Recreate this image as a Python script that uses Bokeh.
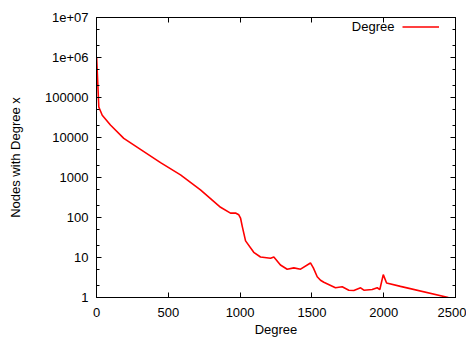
from bokeh.plotting import figure
from bokeh.models import (FixedTicker, LogAxis, LinearAxis, CustomJSTickFormatter,
                          Legend, LegendItem, Label, Range1d)
from bokeh.embed import file_html
from bokeh.resources import INLINE

# data
degree = [1, 9, 16, 40, 97, 190, 306, 446, 585, 724, 864, 933, 968, 991, 1003, 1015,
          1038, 1095, 1142, 1212, 1235, 1281, 1328, 1374, 1421, 1490, 1510, 1537,
          1560, 1583, 1664, 1711, 1757, 1792, 1839, 1862, 1920, 1955, 1973, 1997,
          2020, 2117, 2450]
count = [1.0e6, 2.2e5, 58000, 36000, 20500, 9500, 5050, 2350, 1160, 490, 180, 129,
         130, 117, 97, 60, 26, 13.5, 10.3, 9.6, 10.3, 6.5, 5.1, 5.5, 5.1, 7.3, 5.5,
         3.3, 2.7, 2.4, 1.75, 1.85, 1.52, 1.5, 1.75, 1.52, 1.58, 1.75, 1.58, 3.74,
         2.3, 1.9, 1.0]

x_ticks = [0, 500, 1000, 1500, 2000, 2500]
y_ticks = [1, 10, 100, 1000, 10000, 100000, 1000000, 10000000]
y_minor = [m * t for t in y_ticks[:-1] for m in (2, 5)]

FONT = "Liberation Sans"
FS = "13px"

p = figure(width=466, height=339, output_backend="svg", toolbar_location=None,
           y_axis_type="log", x_range=Range1d(0, 2500), y_range=Range1d(1, 1e7),
           min_border_left=96, min_border_right=11, min_border_top=17,
           min_border_bottom=41)
p.background_fill_color = "white"
p.border_fill_color = "white"
p.outline_line_color = "black"
p.outline_line_width = 1
p.xgrid.visible = False
p.ygrid.visible = False

r = p.line(degree, count, line_color="#ff0000", line_width=1.6)

yt = FixedTicker(ticks=y_ticks, minor_ticks=y_minor)
xt = FixedTicker(ticks=x_ticks, minor_ticks=[])
fmt = CustomJSTickFormatter(code="""
return tick >= 1e6 ? tick.toExponential(0).replace('e+', 'e+0') : tick.toFixed(0);
""")
blank = CustomJSTickFormatter(code="return '';")

def style(ax):
    ax.axis_line_color = "black"
    ax.major_tick_line_color = "black"
    ax.minor_tick_line_color = "black"
    ax.major_tick_in = 5
    ax.major_tick_out = 0
    ax.minor_tick_in = 3
    ax.minor_tick_out = 0
    ax.major_label_text_font = FONT
    ax.major_label_text_font_size = FS
    ax.major_label_text_color = "black"
    ax.axis_label_text_font = FONT
    ax.axis_label_text_font_size = FS
    ax.axis_label_text_font_style = "normal"
    ax.axis_label_text_color = "black"

ya = p.yaxis[0]
ya.ticker = yt
ya.formatter = fmt
style(ya)
ya.major_label_standoff = 8
ya.axis_label = "Nodes with Degree x"
ya.axis_label_standoff = 19

xa = p.xaxis[0]
xa.ticker = xt
style(xa)
xa.major_label_standoff = 10
xa.axis_label = "Degree"
xa.axis_label_standoff = 2

for ax, side in ((LogAxis(ticker=yt, formatter=blank), "right"),
                 (LinearAxis(ticker=xt, formatter=blank), "above")):
    style(ax)
    ax.major_label_text_font_size = "1px"
    ax.major_label_standoff = 0
    ax.axis_label_standoff = 0
    ax.axis_label_text_font_size = "1px"
    p.add_layout(ax, side)

leg = Legend(items=[LegendItem(label=" ", renderers=[r])], location=(306, 263),
             glyph_width=37, glyph_height=15, padding=0, margin=0, spacing=0,
             label_standoff=0, label_width=1, border_line_color=None,
             background_fill_alpha=0, label_text_font=FONT, label_text_font_size=FS)
p.add_layout(leg)

p.add_layout(Label(x=298, y=271, x_units="screen", y_units="screen", text="Degree",
                   text_align="right", text_baseline="middle", text_font=FONT,
                   text_font_size=FS, text_color="black"))

open("out.html", "w").write(file_html(p, INLINE))
